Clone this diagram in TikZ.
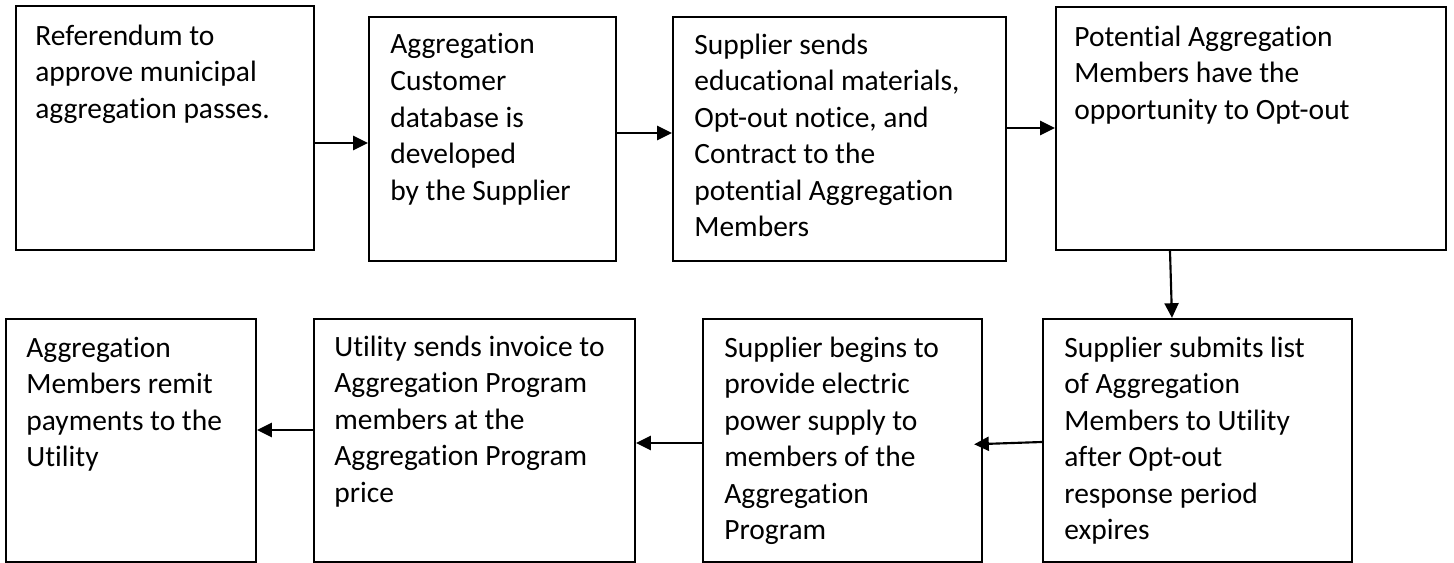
\documentclass[tikz,border=0pt]{standalone}
\usepackage{fontspec}
\setmainfont{Carlito}[Ligatures=NoCommon]
\usetikzlibrary{positioning,arrows.meta}

\tikzset{every picture/.style={line width=0.75pt}}
\tikzset{
  procbox/.style={draw, line width=1.7pt, inner sep=0pt},
  proctext/.style={inner sep=0pt, align=left, font=\fontsize{22.1}{27.4}\selectfont},
  flow/.style={line width=1.6pt, -{Triangle[length=11pt,width=10.5pt]}}
}

\begin{document}
\begin{tikzpicture}[x=0.75pt,y=0.75pt,yscale=-1]
\useasboundingbox (0,0) rectangle (1454,563);

%Shape: Rectangle [top row]
\node [procbox, minimum width=223.5pt, minimum height=183pt] (ref) at (165,128) {};
\node [procbox, minimum width=185.25pt, minimum height=183pt] (db) at (492.5,139) {};
\node [procbox, minimum width=249.75pt, minimum height=183pt] (edu) at (839.5,139) {};
\node [procbox, minimum width=292.5pt, minimum height=182.25pt] (optout) at (1251,128.5) {};
%Shape: Rectangle [bottom row]
\node [procbox, minimum width=231.75pt, minimum height=182.25pt] (list) at (1197.5,440.5) {};
\node [procbox, minimum width=209.25pt, minimum height=182.25pt] (power) at (842.5,440.5) {};
\node [procbox, minimum width=240.75pt, minimum height=182.25pt] (invoice) at (474.5,440.5) {};
\node [procbox, minimum width=187.5pt, minimum height=182.25pt] (remit) at (131,440.5) {};

% Text Node
\node [proctext, below right=14.5pt and 15pt of ref.north west] (tref) {Referendum to\\approve municipal\\aggregation passes.};
% Text Node
\node [proctext, below right=13pt and 16.5pt of db.north west] (tdb) {Aggregation\\Customer\\database is\\developed\\by the Supplier};
% Text Node
\node [proctext, below right=13pt and 16.5pt of edu.north west] (tedu) {Supplier sends\\educational materials,\\Opt-out notice, and\\Contract to the\\potential Aggregation\\Members};
% Text Node
\node [proctext, below right=14.5pt and 14.25pt of optout.north west] (toptout) {Potential Aggregation\\Members have the\\opportunity to Opt-out};
% Text Node
\node [proctext, below right=13.8pt and 16.5pt of list.north west] (tlist) {Supplier submits list\\of Aggregation\\Members to Utility\\after Opt-out\\response period\\expires};
% Text Node
\node [proctext, below right=13.8pt and 16.5pt of power.north west] (tpower) {Supplier begins to\\provide electric\\power supply to\\members of the\\Aggregation\\Program};
% Text Node
\node [proctext, below right=13pt and 15.75pt of invoice.north west] (tinvoice) {Utility sends invoice to\\Aggregation Program\\members at the\\Aggregation Program\\price};
% Text Node
\node [proctext, below right=13.8pt and 15.75pt of remit.north west] (tremit) {Aggregation\\Members remit\\payments to the\\Utility};

%Straight Lines
\draw [flow] (ref.east |- 0,143) -- (db.west |- 0,143);
\draw [flow] (db.east |- 0,133) -- (edu.west |- 0,133);
\draw [flow] (edu.east |- 0,128) -- (optout.west |- 0,128);
\draw [flow] (optout.south -| 1170,0) -- (list.north -| 1172,0);
\draw [flow, shorten >=-6.75pt] (list.west |- 0,442) -- (power.east |- 0,444);
\draw [flow] (power.west |- 0,443) -- (invoice.east |- 0,443);
\draw [flow] (invoice.west |- 0,430) -- (remit.east |- 0,430);

\end{tikzpicture}
\end{document}
